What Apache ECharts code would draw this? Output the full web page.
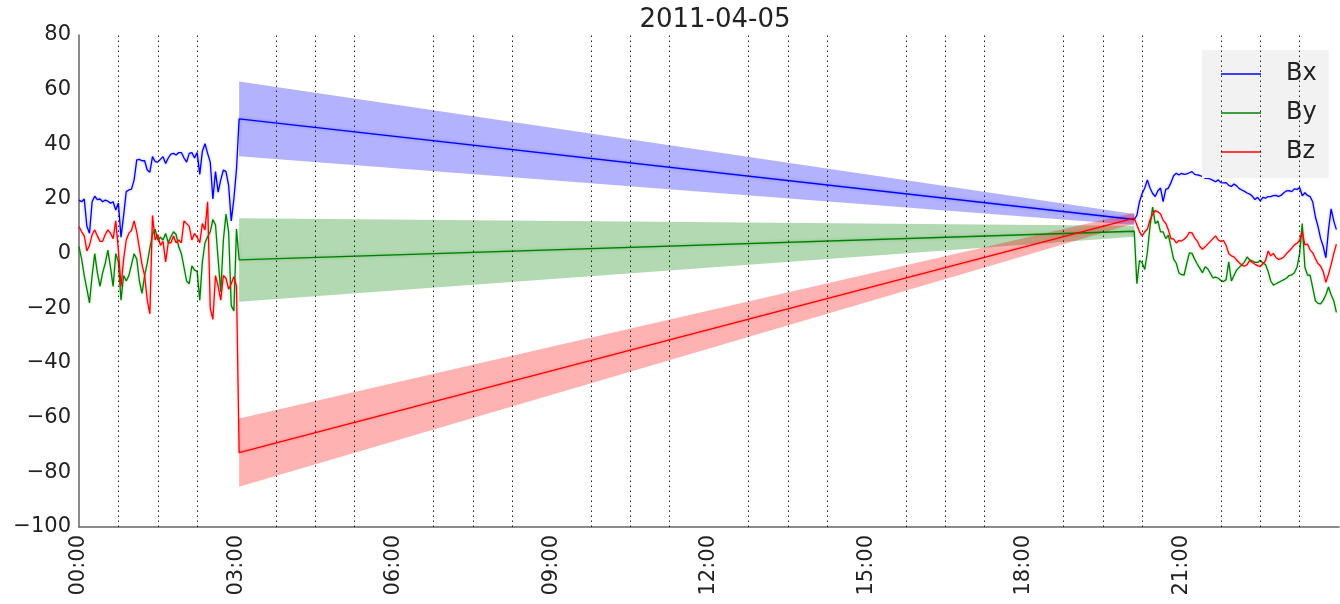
<!DOCTYPE html>
<html>
<head>
<meta charset="utf-8">
<title>2011-04-05</title>
<script src="https://cdn.jsdelivr.net/npm/echarts@6/dist/echarts.min.js"></script>
<style>
  html, body { margin: 0; padding: 0; background: #ffffff; }
  #chart { width: 1340px; height: 604px; }
</style>
</head>
<body>
<div id="chart"></div>
<script>
// Magnetic field components, one day, 3-minute cadence.
const chartTitle = '2011-04-05';
const componentNames = ['Bx', 'By', 'Bz'];
const timeTickLabels = ['00:00', '03:00', '06:00', '09:00', '12:00', '15:00', '18:00', '21:00'];
const yTickValues = [-100, -80, -60, -40, -20, 0, 20, 40, 60, 80];
const sampleStepMinutes = 3;

// Morning block of measurements, starting 00:00
const earlyStart = '00:00';
const bxEarly = [19.6, 19, 20, 10, 7.5, 19, 21, 19.8, 20, 19, 19.6, 19.2, 18.5, 19, 16, 18.5, 6, 14, 22.7, 23.3,
  23.6, 27, 34.3, 34.5, 34, 34, 30.6, 29.8, 35.5, 33.7, 33.5, 34.5, 35.5, 33, 35, 36.4, 36.7, 36.1, 37, 37,
  35, 33.5, 36.7, 37, 35, 37, 29, 37.5, 40.2, 36.7, 33.5, 20, 30, 22.5, 27, 30.6, 30, 25, 12, 20, 31];
const byEarly = [2.6, -2, -8, -13, -18, -8, 0, -7, -12, -7, -3.5, 1.3, -5, -12, 0, -3, -17, -8, -10, -8,
  -4, 0, -2, -10, -14.5, -8, -3.5, 2, 7, 9, 5, 6, 5, 7.4, 4, 6.2, 8, 7, 2.5, 0,
  -5, -10, -11, -4.5, -6, -6.5, -17, -3, 4, 6.2, 8, 12.5, 10.5, -2, -14, 5, 14.5, 8, -19, -21, 9];
const bzEarly = [9.9, 8, 6.5, 1, 3, 7, 8.7, 6.5, 4.5, 4.5, 7, 8.7, 7.5, 5.5, 12, 1.3, -12, -2, 5, 7.5,
  8.5, 12, 8, 2, -4, -8, -17, -22, 14, 5, 7, 3, 4.5, -3, 4, 4, 6.5, 4, 5, 4,
  12, 11, 10, 5, 7.4, 6, 4, 11, 8.7, 19, -20, -24, -8, -12, -17, -8, -9, -13, -11, -8.4, -12];

// Data gap: straight interpolation between its two ends, with uncertainty
const gapTimes = ['03:03', '20:06'];
const bxGap = [49.3, 12.5];
const byGap = [-2.3, 8.2];
const bzGap = [-72.8, 13];
const bxGapErr = [13.7, 2];
const byGapErr = [15.3, 2];
const bzGapErr = [12.5, 2];

// Evening block of measurements, starting 20:09
const lateStart = '20:09';
const bxLate = [14, 19, 22, 24, 27, 24, 22, 20.9, 23, 24, 19, 23.5, 24, 26, 28.5, 29.4, 28.8, 29.4, 29, 29.2,
  29.6, 30, 29, 28.8, 28.6, 28.2, 27.6, 27.6, 27.3, 26.8, 26.3, 27, 26, 25.9, 26, 25, 24.6, 25.5, 24.8, 23.8,
  23.3, 22.8, 22.2, 21.8, 21, 19.8, 20.6, 19.3, 20.6, 20.3, 20.9, 20.9, 21.2, 21.3, 20.9, 21.4, 22.3, 23, 23.1, 22.7,
  23.7, 23.5, 24.2, 21.2, 22.3, 21.3, 20.9, 18.9, 13.5, 10, 5.5, 2.6, -1.5, 8.7, 16.4, 12, 8.8];
const byLate = [-11, -2.5, -3.3, -5.8, 0.5, 9.9, 17, 11, 12, 8, 8, 5.5, 6.8, 2.5, -2, -3.5, -7, -7.7, -7.8, -3.6,
  0.3, 0.1, -2, -3.8, -5.4, -7, -4.8, -5.5, -7.2, -8.9, -8.6, -9, -9.8, -10.2, -9.5, -3, -10, -8, -6, -5,
  -4.1, -3, -1.2, -2.3, -2.7, -3.2, -3.2, -2.4, -3.4, -4, -6.5, -10, -11.5, -11, -10.5, -10, -9.5, -9, -8, -7.8,
  -7, -5, 0, 11, -5, -7.8, -7.9, -12.5, -17.2, -18.2, -18.4, -17, -15, -12.2, -15, -17.2, -21.5];
const bzLate = [10.5, 8, 6.5, 8, 9, 12.3, 14.4, 15.8, 15.3, 14.5, 12.3, 11.1, 8.7, 5.4, 5.4, 3.9, 4.8, 4.6, 5.3, 6.2,
  7.8, 7.6, 5.8, 4.6, 2.6, 1.6, 2.5, 3.5, 4.5, 5.5, 6.5, 5, 4.5, 4.8, 3, 0, -0.8, -1.2, -2.3, -3.3,
  -4.2, -4.6, -4, -2.4, -3.2, -3.9, -4.4, -4.7, -3.7, -2.6, 1, -0.8, 0.1, -1.4, -2.1, -1.8, -1.2, 0, 1, 2,
  3.2, 3.8, 4.8, 8, 3.2, 3.5, 1.3, 0.3, -1.8, -3.6, -4.6, -6.6, -10.5, -7.5, -4, 0, 3.5];

const lineColors = ['#0000ff', '#008000', '#ff0000'];
const bandColors = ['rgba(0,0,255,0.3)', 'rgba(0,128,0,0.3)', 'rgba(255,0,0,0.3)'];
const glowColors = ['rgba(0,0,255,0.35)', 'rgba(0,128,0,0.35)', 'rgba(255,0,0,0.35)'];
const FONT = 'DejaVu Sans';

function toMinutes(hhmm) {
  const [h, m] = hhmm.split(':').map(Number);
  return h * 60 + m;
}

function sampled(start, values) {
  const t0 = toMinutes(start);
  return values.map((v, i) => [t0 + i * sampleStepMinutes, v]);
}

function fullTrace(early, gap, late) {
  return sampled(earlyStart, early)
    .concat(gapTimes.map((t, i) => [toMinutes(t), gap[i]]))
    .concat(sampled(lateStart, late));
}

const traces = [
  fullTrace(bxEarly, bxGap, bxLate),
  fullTrace(byEarly, byGap, byLate),
  fullTrace(bzEarly, bzGap, bzLate)
];
const gaps = [[bxGap, bxGapErr], [byGap, byGapErr], [bzGap, bzGapErr]];
const gapMinutes = gapTimes.map(toMinutes);

// Dotted guides every 45 minutes between the labelled 3-hour ticks
const guideMinutes = [];
for (let m = 45; m < 1440; m += 45) {
  if (m % 180 !== 0) guideMinutes.push(m);
}

function bandRenderer(values, errors, fill) {
  return function (params, api) {
    const top = gapMinutes.map((t, i) => api.coord([t, values[i] + errors[i]]));
    const bottom = gapMinutes.map((t, i) => api.coord([t, values[i] - errors[i]])).reverse();
    return {
      type: 'polygon',
      shape: { points: top.concat(bottom) },
      style: { fill: fill }
    };
  };
}

const series = [];
gaps.forEach(([vals, errs], k) => {
  series.push({
    type: 'custom',
    name: componentNames[k] + ' band',
    silent: true,
    z: 1,
    encode: { x: 0, y: 1 },
    data: [[gapMinutes[0], vals[0]]],
    renderItem: bandRenderer(vals, errs, bandColors[k])
  });
});
traces.forEach((data, k) => {
  const s = {
    type: 'line',
    name: componentNames[k],
    data: data,
    showSymbol: false,
    symbol: 'none',
    z: 3 + k,
    color: lineColors[k],
    itemStyle: { color: lineColors[k] },
    lineStyle: { width: 1.3, color: lineColors[k], shadowBlur: 3, shadowColor: glowColors[k] },
    emphasis: { disabled: true }
  };
  if (k === 0) {
    s.markLine = {
      silent: true,
      symbol: ['none', 'none'],
      label: { show: false },
      lineStyle: { color: '#000', type: [1.5, 3.5], width: 1, opacity: 0.85 },
      emphasis: { disabled: true },
      data: guideMinutes.map(m => ({ xAxis: m }))
    };
  }
  series.push(s);
});

const chart = echarts.init(document.getElementById('chart'), null, { renderer: 'canvas' });
chart.setOption({
  animation: false,
  backgroundColor: '#ffffff',
  title: {
    text: chartTitle,
    left: 710,
    top: 2,
    textAlign: 'center',
    textStyle: { fontFamily: FONT, fontSize: 26, fontWeight: 'normal', color: '#222' }
  },
  legend: {
    data: componentNames,
    orient: 'vertical',
    left: 1202,
    top: 50,
    padding: [12, 12, 14, 19],
    itemGap: 15,
    itemWidth: 40,
    itemHeight: 1.5,
    icon: 'rect',
    backgroundColor: '#f2f2f2',
    borderWidth: 0,
    selectedMode: false,
    textStyle: { fontFamily: FONT, fontSize: 24, color: '#222', padding: [0, 0, 0, 20] }
  },
  grid: { left: 79, right: 1, top: 35, bottom: 77, containLabel: false },
  xAxis: {
    type: 'value',
    min: 0,
    max: 1440,
    interval: 180,
    axisLine: { show: true, onZero: false, lineStyle: { color: '#666', width: 1.5 } },
    axisTick: { show: false },
    splitLine: { show: false },
    axisLabel: {
      rotate: 90,
      margin: 8,
      fontFamily: FONT,
      fontSize: 21,
      color: '#222',
      showMaxLabel: false,
      formatter: v => timeTickLabels[Math.round(v / 180)] || ''
    }
  },
  yAxis: {
    type: 'value',
    min: yTickValues[0],
    max: yTickValues[yTickValues.length - 1],
    interval: 20,
    axisLine: { show: true, lineStyle: { color: '#666', width: 1.5 } },
    axisTick: { show: false },
    splitLine: { show: false },
    axisLabel: {
      margin: 8,
      fontFamily: FONT,
      fontSize: 21,
      color: '#222',
      formatter: v => (v < 0 ? '\u2212' + Math.abs(v) : String(v))
    }
  },
  series: series
});
</script>
</body>
</html>
